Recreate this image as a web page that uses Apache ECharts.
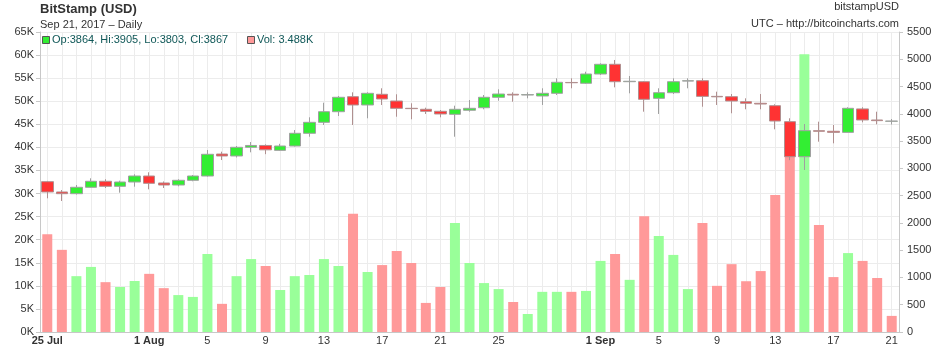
<!DOCTYPE html>
<html><head><meta charset="utf-8">
<script src="https://cdn.jsdelivr.net/npm/echarts@6/dist/echarts.min.js"></script>
<style>html,body{margin:0;padding:0;background:#fff}#c{width:940px;height:348px}</style>
</head><body><div id="c"></div>
<script>
const dates = ['2017-07-25','2017-07-26','2017-07-27','2017-07-28','2017-07-29','2017-07-30','2017-07-31',
'2017-08-01','2017-08-02','2017-08-03','2017-08-04','2017-08-05','2017-08-06','2017-08-07','2017-08-08','2017-08-09','2017-08-10',
'2017-08-11','2017-08-12','2017-08-13','2017-08-14','2017-08-15','2017-08-16','2017-08-17','2017-08-18','2017-08-19','2017-08-20',
'2017-08-21','2017-08-22','2017-08-23','2017-08-24','2017-08-25','2017-08-26','2017-08-27','2017-08-28','2017-08-29','2017-08-30','2017-08-31',
'2017-09-01','2017-09-02','2017-09-03','2017-09-04','2017-09-05','2017-09-06','2017-09-07','2017-09-08','2017-09-09','2017-09-10',
'2017-09-11','2017-09-12','2017-09-13','2017-09-14','2017-09-15','2017-09-16','2017-09-17','2017-09-18','2017-09-19','2017-09-20','2017-09-21'];
const openP  = [2756,2567,2536,2653,2763,2671,2750,2860,2732,2695,2781,2860,3263,3227,3386,3420,3330,3410,3643,3844,4039,4314,4162,4358,4235,4101,4083,4046,3991,4065,4112,4303,4358,4345,4327,4376,4575,4560,4730,4908,4589,4589,4284,4387,4600,4607,4320,4314,4222,4193,4149,3856,3214,3691,3680,3660,4090,3887,3864];
const highP  = [2770,2603,2695,2818,2800,2774,2891,2928,2760,2800,2878,3337,3306,3410,3483,3440,3450,3703,3936,4204,4327,4394,4394,4468,4358,4193,4112,4070,4149,4253,4345,4449,4394,4394,4468,4651,4651,4772,4926,4987,4693,4600,4468,4651,4651,4651,4406,4363,4284,4363,4175,3918,3813,3856,3795,4120,4120,4039,3905];
const lowP   = [2451,2402,2520,2650,2640,2554,2664,2616,2640,2671,2763,2850,3153,3200,3294,3260,3320,3400,3580,3795,3960,3795,3918,4162,3947,3900,3997,3936,3580,4039,4083,4240,4222,4284,4162,4345,4468,4547,4712,4486,4376,4039,3997,4363,4468,4130,4162,4010,4083,4083,3716,3150,2970,3489,3459,3660,3844,3808,3803];
const closeP = [2567,2536,2653,2763,2671,2750,2860,2726,2695,2781,2860,3258,3227,3386,3420,3340,3410,3643,3844,4039,4303,4162,4376,4272,4101,4095,4046,3997,4083,4101,4303,4363,4345,4352,4376,4578,4570,4730,4908,4589,4597,4266,4387,4589,4607,4320,4312,4235,4193,4180,3868,3214,3691,3680,3660,4101,3887,3875,3867];
const volumeK = [21.2,17.8,12.1,14.1,10.8,9.75,11.05,12.6,9.5,8.0,7.6,16.9,6.1,12.1,15.8,14.3,9.1,12.1,12.35,15.8,14.3,25.6,13.0,14.5,17.55,14.95,6.3,9.75,23.6,14.95,10.6,9.3,6.5,3.9,8.7,8.7,8.7,8.9,15.4,16.9,11.3,25.1,20.8,16.7,9.3,23.6,10.0,14.7,11.0,13.2,29.7,38.8,60.2,23.2,11.9,17.1,15.4,11.7,3.488];
const volTicksK = {min:0, max:65, interval:5};
const priceTicks = {min:0, max:5500, interval:500};
const titleText = 'BitStamp (USD)';
const subText = 'Sep 21, 2017 \u2013 Daily';
const rightTop = 'bitstampUSD';
const rightSub = 'UTC \u2013 http://bitcoincharts.com';
const labelDays = [1,5,9,13,17,21,25];
const monthNames = ['Jan','Feb','Mar','Apr','May','Jun','Jul','Aug','Sep','Oct','Nov','Dec'];

const chart = echarts.init(document.getElementById('c'), null, {renderer:'canvas'});
const n = dates.length;
const candleData = dates.map((d,i)=>[openP[i], closeP[i], lowP[i], highP[i]]);
const volData = volumeK.map((v,i)=>{
  const ref = i === 0 ? openP[0] : closeP[i-1];
  const up = closeP[i] >= ref;
  return {value: v, itemStyle: {color: up ? '#99ff99' : '#ff9999'}};
});
const last = n - 1;
const legendText = `Op:${openP[last]}, Hi:${highP[last]}, Lo:${lowP[last]}, Cl:${closeP[last]}`;
const volText = `Vol: ${volumeK[last].toFixed(3)}K`;
const FONT = '"Liberation Sans", Arial, sans-serif';

function dayOf(s){ return parseInt(s.slice(8,10),10); }
function monOf(s){ return parseInt(s.slice(5,7),10)-1; }

chart.setOption({
  animation: false,
  textStyle: {fontFamily: FONT},
  grid: {left: 40, right: 41, top: 32, bottom: 16, containLabel: false},
  xAxis: {
    type: 'category', data: dates, boundaryGap: true,
    axisLine: {show: true, lineStyle: {color: '#c8c8c8'}},
    axisTick: {show: false},
    axisLabel: {
      fontFamily: FONT, fontSize: 11, color: '#333', margin: 3,
      interval: (i, v) => i === 0 || labelDays.includes(dayOf(v)),
      formatter: (v, i) => {
        const d = dayOf(v);
        if (i === 0 || d === 1) return '{b|' + d + ' ' + monthNames[monOf(v)] + '}';
        return String(d);
      },
      rich: {b: {fontWeight: 'bold', fontSize: 11, color: '#333', fontFamily: FONT}}
    },
    splitLine: {show: true, interval: 0, alignWithLabel: true, lineStyle: {color: '#ececec', width: 1}}
  },
  yAxis: [
    {
      type: 'value', position: 'left', min: volTicksK.min, max: volTicksK.max, interval: volTicksK.interval,
      axisLine: {show: true, lineStyle: {color: '#c8c8c8'}},
      axisTick: {show: true, length: 4, lineStyle: {color: '#c8c8c8'}},
      axisLabel: {formatter: '{value}K', fontFamily: FONT, fontSize: 11, color: '#333', margin: 6},
      splitLine: {show: true, lineStyle: {color: '#ececec'}}
    },
    {
      type: 'value', position: 'right', min: priceTicks.min, max: priceTicks.max, interval: priceTicks.interval,
      axisLine: {show: true, lineStyle: {color: '#c8c8c8'}},
      axisTick: {show: true, length: 4, lineStyle: {color: '#c8c8c8'}},
      axisLabel: {formatter: v => String(v), fontFamily: FONT, fontSize: 11, color: '#333', margin: 8},
      splitLine: {show: false}
    }
  ],
  series: [
    {type: 'bar', yAxisIndex: 0, data: volData, barWidth: 10, z: 1},
    {type: 'candlestick', yAxisIndex: 1, data: candleData, barWidth: 12, z: 3,
      itemStyle: {color: '#33ee33', color0: '#ff3333', borderColor: '#a0a0a0', borderColor0: '#b09090', borderWidth: 1}}
  ],
  graphic: [
    {type: 'text', z: 100, left: 40, top: 3, style: {text: titleText, font: 'bold 13px ' + FONT, fill: '#333'}},
    {type: 'text', z: 100, left: 40, top: 19, style: {text: subText, font: '11px ' + FONT, fill: '#333'}},
    {type: 'text', z: 100, right: 41, top: 1, style: {text: rightTop, font: '11px ' + FONT, fill: '#333', align: 'right'}},
    {type: 'text', z: 100, right: 41, top: 18, style: {text: rightSub, font: '11px ' + FONT, fill: '#333', align: 'right'}},
    {type: 'rect', z: 100, left: 42, top: 36, shape: {width: 7, height: 7}, style: {fill: '#33ee33', stroke: '#555', lineWidth: 1}},
    {type: 'text', z: 100, left: 52, top: 34, style: {text: legendText, font: '11px ' + FONT, fill: '#105858'}},
    {type: 'rect', z: 100, left: 247, top: 36, shape: {width: 7, height: 7}, style: {fill: '#ff9999', stroke: '#555', lineWidth: 1}},
    {type: 'text', z: 100, left: 257, top: 34, style: {text: volText, font: '11px ' + FONT, fill: '#105858'}}
  ]
});
</script></body></html>
